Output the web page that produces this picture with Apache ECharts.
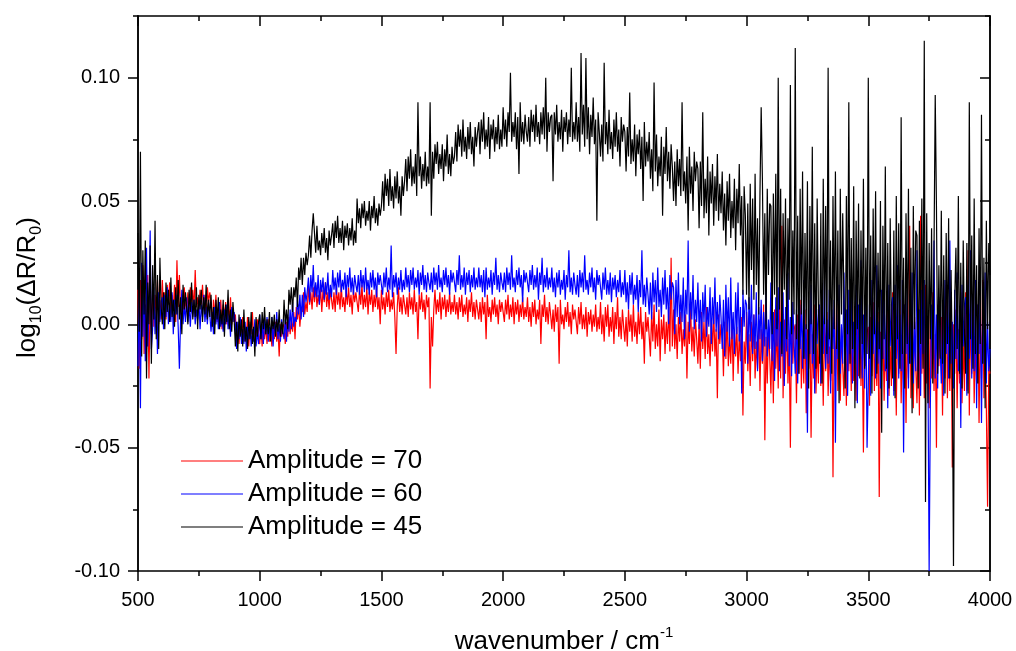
<!DOCTYPE html>
<html>
<head>
<meta charset="utf-8">
<script src="https://cdn.jsdelivr.net/npm/echarts@6/dist/echarts.min.js"></script>
<style>
  html, body { margin: 0; padding: 0; background: #fff; }
  #chart { width: 1016px; height: 651px; }
</style>
</head>
<body>
<div id="chart"></div>
<script>
const WN_START = 500;
const WN_STEP  = 5;

const amp70 = [
  .014,-.018,.018,-.006,.024,-.012,.008,-.010,.020,-.022,.012,-.004,.015,-.001,.012,.003,.018,0,.010,.002,          // 500
  .018,.005,.013,.002,.016,.008,.017,.004,.012,.006,.016,.001,.026,.007,.020,.004,.012,.003,.015,.008,              // 600
  .005,.013,.004,.015,.008,.014,.006,.022,.007,.011,.005,.014,.008,.016,.006,.012,.003,.015,.009,.013,              // 700
  .009,-.001,.010,.003,.012,.001,.007,.001,.010,-.002,.008,.003,.009,0,.007,.002,.011,0,.006,.001,                  // 800
  .004,-.006,0,-.008,.002,-.004,.003,-.007,-.001,-.005,.003,-.009,.001,-.004,.005,-.006,0,-.007,.002,-.003,         // 900
  -.008,-.001,-.009,.001,-.006,-.001,-.008,.002,-.007,-.003,-.009,0,-.006,.001,-.007,-.002,-.013,0,-.005,-.001,     // 1000
  0,-.008,.001,-.005,.003,-.004,.002,-.003,.005,-.006,.007,.002,.008,-.001,.006,.005,.013,.004,.009,.005,           // 1100
  .016,.008,.013,.006,.015,.009,.016,.007,.012,.008,.015,.005,.014,.009,.017,.007,.013,.006,.014,.010,              // 1200
  .006,.013,.005,.015,.008,.013,.006,.016,.007,.011,.005,.014,.008,.015,.007,.012,.004,.014,.009,.013,              // 1300
  .013,.005,.014,.008,.016,.006,.012,.007,.015,.004,.013,.008,.014,.005,.012,.007,.015,.006,.011,0,                 // 1400
  .014,.006,.011,.004,.013,.007,.014,.005,.010,.006,.013,.003,-.012,.007,.015,.005,.011,.004,.012,.008,             // 1500
  .004,.011,.003,.013,.006,.011,.004,.014,.005,.009,-.006,.012,.006,.013,.005,.010,.002,.012,.007,.011,             // 1600
  -.026,.003,-.009,.006,.014,.004,.010,.005,.013,.002,.011,.006,.012,.003,.010,.005,.013,.004,.009,.005,            // 1700
  .012,.004,.009,.002,.011,.005,.012,.003,.008,.004,.011,.001,.010,.005,.013,.003,.009,.002,.010,.006,              // 1800
  .002,.009,.001,.011,.004,.009,-.006,.012,.003,.007,.001,.010,.004,.011,.003,.008,0,.010,.005,.009,                // 1900
  .009,.001,.010,.004,.012,.002,.008,.003,.011,0,.009,.004,.010,.001,.008,.003,.011,.002,.007,.003,                 // 2000
  .011,.001,.007,-.001,.009,.003,.010,0,.006,.002,.010,-.008,.008,.003,.012,.001,.007,0,.009,.004,                  // 2100
  -.002,.006,-.003,.008,.001,.007,-.016,.010,0,.004,-.002,.007,.001,.009,-.001,.005,-.004,.008,.002,.006,           // 2200
  .006,-.004,.007,0,.009,-.002,.004,-.002,.007,-.005,.005,0,.006,-.003,.004,-.001,.008,-.003,.003,-.002,            // 2300
  .009,-.004,.004,-.007,.007,-.001,.008,-.005,.003,-.003,.007,-.008,.005,-.002,.011,-.005,.003,-.006,.006,-.001,    // 2400
  -.007,.003,-.009,.006,-.003,.004,-.007,.008,-.005,.001,-.008,.005,-.004,.007,-.006,.001,-.016,.005,-.003,.003,    // 2500
  .003,-.013,.005,-.007,.008,-.010,0,-.009,.006,-.015,.002,-.006,.004,-.012,.001,-.008,.007,-.011,.027,-.009,       // 2600
  .006,-.010,0,-.014,.003,-.007,.005,-.012,-.002,-.009,.004,-.022,.001,-.008,.008,-.011,-.001,-.013,.002,-.006,     // 2700
  -.016,0,-.018,.005,-.010,.001,-.014,.007,-.012,-.004,-.017,.002,-.011,.006,-.013,-.002,-.030,.004,-.008,0,        // 2800
  -.002,-.021,.001,-.014,.004,-.017,-.005,-.016,.002,-.023,-.003,-.013,-.001,-.020,-.004,-.015,.003,-.037,-.007,-.016, // 2900
  .005,-.019,-.004,-.025,.001,-.015,.004,-.022,-.007,-.018,.002,-.027,-.002,-.016,.008,-.047,-.005,-.024,-.001,-.013,  // 3000
  -.028,-.002,-.032,.006,-.018,0,-.026,.010,-.022,.040,-.030,.002,-.020,.008,-.024,-.006,-.050,.004,-.016,-.002,    // 3100
  0,-.032,.004,-.020,.010,-.026,-.006,-.024,.006,-.036,-.002,-.018,.002,-.046,-.004,-.022,.008,-.028,-.008,-.024,   // 3200
  .007,-.025,-.005,-.033,.001,-.019,.005,-.029,-.009,-.023,.003,-.062,-.003,-.021,.011,-.027,-.007,-.031,-.001,-.017, // 3300
  -.029,-.003,-.033,.005,-.019,-.001,-.027,.009,-.023,-.009,-.031,.001,-.021,.007,-.025,-.007,-.052,.003,-.017,-.003, // 3400
  -.001,-.033,.003,-.021,.009,-.027,-.007,-.025,.005,-.070,-.003,-.019,.001,-.031,-.005,-.023,.007,-.029,-.009,-.025, // 3500
  .013,-.027,-.002,-.037,.006,-.020,.010,-.032,-.007,-.024,.008,-.040,0,-.022,.040,-.030,-.004,-.034,.003,-.017,    // 3600
  -.032,0,-.037,.044,-.020,.003,-.030,.016,-.024,-.007,-.034,.006,-.022,.013,-.027,-.004,-.050,.008,-.017,0,        // 3700
  .003,-.037,.008,-.022,.016,-.030,-.004,-.027,.010,-.058,0,-.020,.006,-.034,-.002,-.024,.013,-.032,-.007,-.027,    // 3800
  .013,-.027,.030,-.037,.006,-.020,.010,-.032,-.007,-.024,.008,-.040,0,-.022,.018,-.030,-.004,-.034,-.074,-.017,    // 3900
  -.020
];

const amp60 = [
  -.017,.015,-.034,.025,-.005,.018,-.015,.031,-.009,.008,.038,-.010,-.002,.015,-.004,.007,-.012,.013,.001,.009,     // 500
  .011,-.002,.012,.003,.015,0,.008,.001,.013,-.004,.010,.004,.012,-.001,-.018,.002,.014,0,.008,.001,                // 600
  .011,.001,.007,-.001,.009,.003,.010,0,.006,.002,.010,-.002,.008,.003,.012,.001,.007,0,.009,.004,                  // 700
  -.003,.005,-.004,.007,0,.006,-.002,.009,-.001,.003,-.003,.006,0,.008,-.002,.004,-.005,.007,.001,.005,             // 800
  0,-.010,.001,-.006,.003,-.008,-.002,-.008,.001,-.011,-.001,-.006,0,-.009,-.002,-.007,.002,-.009,-.003,-.008,      // 900
  .004,-.006,0,-.008,.002,-.004,.003,-.007,-.001,-.005,.003,-.009,.001,-.004,.005,-.006,0,-.007,.002,-.003,         // 1000
  -.006,.002,-.007,.004,-.003,.006,-.002,.009,-.001,.003,.001,.010,.004,.012,.002,.012,.003,.015,.009,.013,         // 1100
  .019,.009,.020,.013,.024,.011,.017,.011,.020,.008,.018,.013,.019,.010,.017,.012,.021,.010,.016,.011,              // 1200
  .022,.014,.019,.012,.021,.015,.022,.013,.018,.014,.021,.011,.020,.015,.023,.013,.019,.012,.020,.016,              // 1300
  .013,.020,.012,.022,.015,.020,.013,.023,.014,.018,.012,.021,.015,.022,.014,.019,.011,.021,.016,.020,              // 1400
  .020,.012,.021,.015,.023,.013,.019,.014,.032,.011,.020,.015,.021,.012,.019,.014,.022,.013,.018,.014,              // 1500
  .023,.015,.020,.013,.022,.016,.023,.014,.019,.015,.022,.012,.021,.016,.024,.014,.020,.013,.021,.017,              // 1600
  .014,.021,.013,.023,.016,.021,.014,.024,.015,.019,.013,.022,.016,.023,.015,.020,.012,.022,.017,.021,              // 1700
  .021,.013,.022,.016,.028,.014,.020,.015,.023,.012,.021,.016,.022,.013,.020,.015,.023,.014,.019,.015,              // 1800
  .023,.015,.020,.013,.022,.011,.023,.014,.019,.015,.022,.012,.021,.016,.027,.014,.020,.013,.021,.017,              // 1900
  .014,.021,.013,.023,.016,.021,.014,.028,.015,.019,.013,.022,.016,.023,.015,.020,.009,.022,.017,.021,              // 2000
  .021,.013,.022,.016,.024,.014,.020,.015,.023,.010,.021,.016,.027,.013,.020,.015,.023,.014,.019,.015,              // 2100
  .023,.013,.019,.011,.021,.015,.022,.012,.018,.014,.022,.010,.020,.015,.030,.013,.019,.012,.021,.016,              // 2200
  .012,.020,.011,.022,.015,.021,.013,.028,.014,.018,.012,.021,.015,.023,.013,.019,.010,.022,.016,.020,              // 2300
  .020,.010,.021,.014,.023,.012,.018,.012,.021,.009,.019,.014,.020,.011,.018,.013,.022,.011,.017,.012,              // 2400
  .022,.009,.017,.006,.020,.012,.021,.008,.016,.010,.020,.005,.018,.011,.030,.008,.016,.007,.019,.012,              // 2500
  .004,.017,.002,.021,.009,.018,.005,.023,.007,.014,.003,.019,.008,.022,.006,.015,0,.020,.010,.017,                 // 2600
  .015,-.004,.018,.003,.021,0,.012,.001,.019,-.006,.014,.004,.034,-.003,.013,.002,.020,-.002,.010,.001,             // 2700
  .017,-.002,.010,-.007,.013,.001,.016,-.005,.007,-.001,.015,-.008,.011,0,.019,-.003,.009,-.006,.012,.003,          // 2800
  -.010,.010,-.013,.016,-.003,.011,-.009,.019,-.006,.005,-.012,.013,-.004,.017,-.007,.007,-.028,.014,-.001,.010,    // 2900
  .008,-.016,.011,-.007,.016,-.012,.004,-.010,.013,-.019,.007,-.006,.010,-.015,.005,-.009,.014,-.013,.002,-.010,    // 3000
  .017,-.015,.005,-.023,.011,-.009,.015,-.019,.001,-.013,.013,-.025,.007,-.011,.021,-.017,.003,-.021,.009,-.007,    // 3100
  -.020,.006,-.024,.014,-.010,.008,-.018,.018,-.014,0,-.044,.010,-.012,.016,-.016,.002,-.028,.012,-.008,.006,       // 3200
  .008,-.024,.012,-.012,.018,-.018,.002,-.016,.014,-.028,.006,-.010,.010,-.048,.004,-.014,.016,-.020,0,-.016,       // 3300
  .021,-.019,.006,-.029,.014,-.012,.018,-.024,.001,-.016,.016,-.032,.008,-.014,.026,-.022,.004,-.026,.011,-.050,    // 3400
  -.024,.008,-.029,.018,-.012,.011,-.022,.024,-.016,.001,-.026,.014,-.014,.021,-.019,.004,-.034,.016,-.009,.008,    // 3500
  .011,-.029,.016,-.014,.024,-.022,.004,-.019,.018,-.052,.008,-.012,.014,-.026,.006,-.016,.021,-.024,.001,-.019,    // 3600
  .030,-.019,.006,-.029,.014,-.012,.018,-.024,.001,-.016,-.100,-.032,.008,-.014,.034,-.022,.004,-.026,.011,-.009,   // 3700
  -.024,.008,-.029,.018,-.012,.011,-.022,.034,-.016,.001,-.026,.014,-.014,.021,-.019,.004,-.042,.016,-.009,.008,    // 3800
  .011,-.029,.016,-.014,.030,-.022,.004,-.019,.018,-.034,.008,-.012,.014,-.040,.006,-.016,.021,-.024,.001,-.019,    // 3900
  -.010
];

const amp45 = [
  .037,-.003,.070,-.013,.030,.004,.034,-.022,.017,0,.032,-.016,.024,.002,.042,-.006,.020,-.010,.027,.007,           // 500
  0,.013,-.002,.017,.005,.014,.001,.019,.003,.010,-.001,.015,.004,.018,.002,.011,-.004,.016,.006,.013,              // 600
  .013,0,.014,.005,.017,.002,.010,.003,.015,-.002,.012,.006,.014,.001,.011,.004,.016,.002,.010,.003,                // 700
  .012,-.001,.007,-.004,.010,.002,.011,-.002,.006,0,.010,-.005,.008,.001,.014,-.002,.006,-.003,.009,.002,           // 800
  -.009,.001,-.011,.004,-.005,.002,-.009,.006,-.007,-.001,-.010,.003,-.006,.005,-.008,-.001,-.013,.003,-.005,.001,  // 900
  .004,-.006,.005,-.002,.007,-.004,.002,-.004,.005,-.007,.003,-.002,.004,-.005,.002,-.003,.006,-.005,.001,-.004,    // 1000
  .010,0,.006,-.002,.014,.008,.015,.005,.015,.011,.019,.007,.023,.018,.027,.016,.027,.020,.029,.024,                // 1100
  .028,.036,.027,.038,.045,.037,.029,.040,.030,.034,.028,.037,.031,.039,.029,.035,.026,.038,.032,.036,              // 1200
  .041,.031,.042,.035,.044,.033,.039,.033,.042,.030,.040,.035,.041,.032,.039,.034,.043,.032,.038,.033,              // 1300
  .051,.041,.047,.039,.049,.043,.050,.040,.046,.042,.050,.038,.048,.043,.052,.041,.047,.040,.049,.044,              // 1400
  .048,.058,.046,.061,.052,.059,.048,.063,.050,.056,.047,.060,.051,.062,.049,.056,.044,.060,.052,.058,              // 1500
  .067,.054,.068,.059,.071,.056,.064,.057,.069,.052,.090,.060,.068,.055,.065,.058,.070,.056,.064,.057,              // 1600
  .090,.044,.070,.059,.073,.065,.074,.061,.069,.063,.073,.058,.071,.064,.077,.061,.069,.060,.072,.065,              // 1700
  .068,.078,.066,.081,.072,.079,.068,.083,.070,.076,.067,.080,.071,.082,.069,.076,.064,.080,.072,.078,              // 1800
  .082,.069,.083,.074,.086,.071,.079,.072,.084,.067,.081,.075,.083,.070,.080,.073,.085,.071,.079,.072,              // 1900
  .088,.075,.083,.072,.086,.078,.102,.074,.082,.076,.086,.071,.084,.061,.090,.074,.082,.073,.085,.078,              // 2000
  .074,.084,.072,.087,.078,.085,.074,.089,.076,.082,.073,.086,.077,.088,.075,.100,.070,.086,.078,.084,              // 2100
  .085,.058,.086,.077,.089,.074,.082,.075,.087,.070,.084,.078,.086,.073,.083,.076,.104,.074,.082,.075,              // 2200
  .090,.074,.084,.070,.110,.077,.089,.072,.108,.075,.088,.069,.085,.076,.092,.073,.083,.042,.086,.078,              // 2300
  .068,.081,.066,.106,.073,.082,.069,.087,.071,.078,.067,.083,.072,.086,.070,.079,.064,.084,.074,.081,              // 2400
  .078,.062,.080,.068,.094,.065,.075,.066,.081,.060,.077,.069,.079,.063,.076,.050,.082,.064,.074,.066,              // 2500
  .078,.059,.071,.054,.098,.062,.077,.056,.068,.060,.076,.044,.072,.061,.080,.058,.070,.055,.073,.064,              // 2600
  .050,.066,.048,.071,.056,.067,.052,.090,.054,.062,.049,.068,.038,.072,.053,.064,.046,.070,.058,.066,              // 2700
  .063,.039,.066,.048,.086,.043,.059,.045,.068,.036,.062,.049,.065,.040,.060,.046,.069,.042,.057,.045,              // 2800
  .062,.038,.053,.032,.058,.042,.061,.035,.050,.039,.059,.030,.055,.041,.065,.036,.052,.012,.056,.044,              // 2900
  .012,.049,.006,.057,.022,.051,.010,.061,.016,.043,.004,.053,.088,.059,.012,.045,-.002,.055,.020,.049,             // 3000
  .048,-.004,.053,.012,.061,-.002,.100,.006,.055,-.012,.045,.014,.051,-.006,.043,.010,.097,-.004,.038,.004,         // 3100
  .112,-.006,.044,-.020,.055,.004,.062,-.014,.037,-.002,.058,-.026,.048,0,.072,-.012,.041,-.018,.051,.008,          // 3200
  -.016,.045,-.024,.059,0,.048,-.012,.104,-.006,.034,-.020,.052,-.002,.062,-.010,.038,-.032,.055,.004,.045,         // 3300
  .045,-.026,.052,-.004,.090,-.016,.035,-.010,.056,-.034,.042,-.002,.049,-.022,.038,-.008,.059,-.018,.031,-.012,    // 3400
  .100,-.014,.036,-.028,.047,-.004,.054,-.020,.029,-.010,.050,-.044,.040,-.006,.064,-.018,.033,-.026,.043,0,        // 3500
  -.022,.038,-.030,.052,-.006,.041,-.018,.084,-.012,.027,-.026,.045,-.008,.055,-.016,.031,-.036,.048,-.002,.038,    // 3600
  .036,-.026,.042,-.008,.051,-.018,.115,-.072,.045,-.032,.033,-.006,.039,-.024,.030,.093,.048,-.020,.024,-.014,     // 3700
  .046,-.016,.028,-.028,.037,-.008,.043,-.022,.022,-.012,-.098,.010,.031,-.010,.052,-.020,.025,-.026,.034,-.004,    // 3800
  -.020,.033,-.028,.090,-.006,.036,-.018,.051,-.012,.024,-.024,.039,-.008,.085,-.016,.027,-.034,.042,-.002,.033,    // 3900
  .020
];

const SERIES_NAMES  = ['Amplitude = 70', 'Amplitude = 60', 'Amplitude = 45'];
const SERIES_DATA   = [amp70, amp60, amp45];
const SERIES_COLORS = ['#ff0000', '#0000ff', '#000000'];
const Y_MAJOR = [-0.10, -0.05, 0.00, 0.05, 0.10];

const FONT = '"Liberation Sans", Arial, sans-serif';
const INK  = '#000';

const N_POINTS = (4000 - WN_START) / WN_STEP + 1;
SERIES_DATA.forEach((s, i) => {
  if (s.length !== N_POINTS) throw new Error(SERIES_NAMES[i] + ' has ' + s.length + ' points, expected ' + N_POINTS);
});

function toPairs(values) {
  return values.map((v, i) => [WN_START + i * WN_STEP, v]);
}

const frameLine = { show: true, onZero: false, lineStyle: { color: INK, width: 1.5 } };
const tickStyle = { color: INK, width: 1.5 };

function xAxisDef(position) {
  const bottom = position === 'bottom';
  return {
    type: 'value', position, min: 500, max: 4000, interval: 500,
    axisLine: frameLine,
    axisTick: { show: true, inside: !bottom, length: 10, lineStyle: tickStyle },
    minorTick: { show: true, splitNumber: 2, length: 5, lineStyle: tickStyle },
    splitLine: { show: false },
    axisLabel: {
      show: bottom, color: INK, fontSize: 20, fontFamily: FONT, margin: 19,
      formatter: (v) => String(v),
    },
  };
}

function yAxisDef(position, major) {
  const left = position === 'left';
  const ax = {
    type: 'value', position, min: -0.1, max: 0.125, interval: 0.025,
    axisLine: frameLine,
    axisTick: { show: true, inside: !left, length: major ? 10 : 5, lineStyle: tickStyle },
    splitLine: { show: false },
    axisLabel: { show: false },
  };
  if (major) {
    ax.axisTick.customValues = Y_MAJOR;
    if (left) {
      ax.axisLabel = {
        show: true, customValues: Y_MAJOR, color: INK, fontSize: 20, fontFamily: FONT, margin: 18,
        formatter: (v) => v.toFixed(2),
      };
    }
  }
  return ax;
}

const xBottom = xAxisDef('bottom');
xBottom.name = '{t|wavenumber / cm}{sup|-1}';
xBottom.nameLocation = 'middle';
xBottom.nameGap = 54;
xBottom.nameTextStyle = {
  rich: {
    t:   { fontSize: 26, fontFamily: FONT, color: INK, lineHeight: 34 },
    sup: { fontSize: 15, fontFamily: FONT, color: INK, lineHeight: 15, verticalAlign: 'top' },
  },
};

const yLabelAxis = yAxisDef('left', true);
yLabelAxis.name = '{t|log}{sub|10}{t|(ΔR/R}{sub|0}{t|)}';
yLabelAxis.nameLocation = 'middle';
yLabelAxis.nameGap = 93;
yLabelAxis.nameTextStyle = {
  padding: [0, 0, 0, 12],
  rich: {
    t:   { fontSize: 26, fontFamily: FONT, color: INK, lineHeight: 34 },
    sub: { fontSize: 16, fontFamily: FONT, color: INK, lineHeight: 16, verticalAlign: 'bottom' },
  },
};

const chart = echarts.init(document.getElementById('chart'), null, { renderer: 'canvas' });

chart.setOption({
  backgroundColor: '#fff',
  animation: false,
  grid: { left: 138, right: 26, top: 16, bottom: 80, containLabel: false, outerBoundsMode: 'none' },
  legend: {
    orient: 'vertical', left: 181, top: 448, padding: 0,
    icon: 'rect', itemWidth: 62, itemHeight: 1, itemGap: 7,
    textStyle: { fontSize: 26, color: INK, fontFamily: FONT },
    data: SERIES_NAMES,
  },
  xAxis: [xBottom, xAxisDef('top')],
  yAxis: [yAxisDef('left', false), yLabelAxis, yAxisDef('right', false), yAxisDef('right', true)],
  series: SERIES_NAMES.map((name, i) => ({
    name, type: 'line',
    xAxisIndex: 0, yAxisIndex: 0,
    data: toPairs(SERIES_DATA[i]),
    symbol: 'none', silent: true,
    lineStyle: { color: SERIES_COLORS[i], width: 1.2 },
    itemStyle: { color: SERIES_COLORS[i] },
  })),
});
</script>
</body>
</html>
